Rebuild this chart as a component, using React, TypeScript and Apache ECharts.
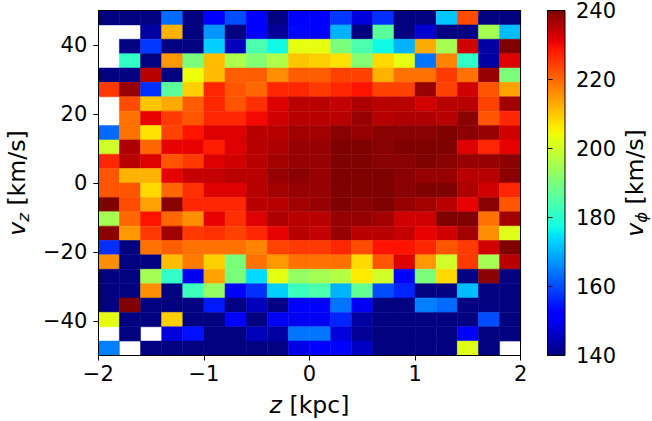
import React, { useEffect, useRef } from "react";
import * as echarts from "echarts";

// bin edges
const zEdges = [-2.0, -1.8, -1.6, -1.4, -1.2, -1.0, -0.8, -0.6, -0.4, -0.2, 0.0, 0.2, 0.4, 0.6, 0.8, 1.0, 1.2, 1.4, 1.6, 1.8, 2.0];
const vzEdges = [50, 45.8333, 41.6667, 37.5, 33.3333, 29.1667, 25, 20.8333, 16.6667, 12.5, 8.3333, 4.1667, 0, -4.1667, -8.3333, -12.5, -16.6667, -20.8333, -25, -29.1667, -33.3333, -37.5, -41.6667, -45.8333, -50];

// tick labels
const zTicks = [-2, -1, 0, 1, 2];
const vzTicks = [-40, -20, 0, 20, 40];
const cbTicks = [140, 160, 180, 200, 220, 240];

// v_phi per cell, rows from top (vz = 50) to bottom (vz = -50), columns z = -2 .. 2
const vphi: (number | null)[][] = [
  [135, 135, 135, 163, 135, 152, 160, 152, 140, 152, 152, 158, 148, 157, 137, 137, 172, 223, 137, 137],
  [null, null, 143, 212, 135, 167, 138, 152, 142, 153, 152, 170, 137, 186, 137, 147, 137, 137, 195, 171],
  [null, 137, 158, 137, 137, 173, 145, 184, 177, 203, 203, 190, 184, 177, 170, 213, 195, 233, 143, 240],
  [null, 181, 137, 215, 190, 211, 196, 191, 196, 210, 209, 207, 191, 208, 203, 164, 217, 181, 143, 232],
  [135, 135, 235, 135, 204, 211, 221, 221, 216, 221, 221, 224, 224, 212, 219, 219, 225, 219, 238, 190],
  [225, 238, 157, 186, 209, 227, 222, 220, 227, 227, 225, 227, 229, 224, 224, 238, 224, 233, 222, 214],
  [null, 223, 210, 213, 221, 227, 222, 226, 232, 235, 235, 234, 236, 235, 235, 233, 235, 235, 224, 237],
  [null, 219, 231, 225, 222, 227, 227, 230, 233, 235, 235, 235, 238, 235, 236, 236, 235, 239, 222, 227],
  [163, 219, 207, 224, 229, 232, 232, 235, 235, 237, 237, 239, 238, 239, 239, 239, 240, 239, 238, 233],
  [200, 236, 220, 231, 231, 228, 232, 235, 236, 238, 238, 240, 240, 239, 240, 240, 240, 232, 227, 231],
  [227, 235, 232, 222, 225, 232, 233, 235, 237, 238, 238, 240, 240, 239, 239, 240, 239, 238, 238, 239],
  [222, 212, 212, 231, 234, 234, 235, 235, 238, 239, 238, 240, 240, 240, 239, 238, 238, 235, 235, 239],
  [222, 222, 208, 220, 226, 232, 232, 235, 237, 238, 238, 240, 240, 240, 239, 240, 240, 236, 233, 227],
  [240, 223, 214, 239, 227, 227, 227, 235, 235, 237, 238, 240, 239, 240, 238, 237, 235, 231, 239, 222],
  [195, 220, 229, 220, 216, 231, 226, 232, 236, 235, 235, 238, 238, 237, 233, 233, 240, 240, 219, 237],
  [239, 215, 225, 237, 225, 226, 224, 227, 231, 235, 234, 238, 235, 235, 234, 231, 233, 237, 216, 202],
  [157, 135, 219, 221, 219, 219, 219, 217, 224, 225, 225, 227, 223, 229, 229, 227, 222, 225, 233, 240],
  [216, 135, 135, 211, 218, 209, 190, 219, 215, 219, 219, 219, 208, 222, 232, 215, 200, 225, 195, 235],
  [135, 135, 195, 181, 150, 214, 190, 174, 203, 193, 195, 197, 206, 200, 152, 190, 208, 137, 239, 137],
  [135, 135, 216, 135, 182, 193, 151, 157, 173, 182, 184, 170, 187, 160, 156, 137, 137, 171, 137, 137],
  [135, 240, 135, 135, 135, 155, 137, 145, 138, 151, 152, 164, 150, 137, 137, 165, 163, 137, 137, 137],
  [203, 135, 135, 209, 135, 135, 151, 137, 150, 150, 150, 156, 143, 137, 137, 137, 137, 137, 160, 137],
  [null, 135, null, 148, 154, 135, 135, 145, 143, 164, 164, 148, 142, 137, 137, 137, 137, 151, 137, 137],
  [165, null, 135, 135, 135, 135, 135, 135, 137, 149, 151, 151, 146, 137, 137, 137, 137, 202, 137, null],
];

const vMin = 140;
const vMax = 240;

// matplotlib "jet" colormap
function jet(x: number): string {
  const r = x < 0.35 ? 0 : x < 0.66 ? (x - 0.35) / 0.31 : x < 0.89 ? 1 : 1 - (0.5 * (x - 0.89)) / 0.11;
  const g = x < 0.125 ? 0 : x < 0.375 ? (x - 0.125) / 0.25 : x < 0.64 ? 1 : x < 0.91 ? 1 - (x - 0.64) / 0.27 : 0;
  const b = x < 0.11 ? 0.5 + (0.5 * x) / 0.11 : x < 0.34 ? 1 : x < 0.65 ? 1 - (x - 0.34) / 0.31 : 0;
  const c = (v: number) => Math.round(Math.max(0, Math.min(1, v)) * 255);
  return `rgb(${c(r)},${c(g)},${c(b)})`;
}
const jetColors: string[] = [];
for (let i = 0; i <= 200; i++) jetColors.push(jet(i / 200));

const FONT = "DejaVu Sans";
const fmtMinus = (v: number) => String(v).replace("-", "\u2212");

export default function App() {
  const ref = useRef<HTMLDivElement>(null);
  useEffect(() => {
    document.body.style.margin = "0";
    if (!ref.current) return;
    const chart = echarts.init(ref.current, undefined, { renderer: "svg" });

    const cells: number[][] = [];
    vphi.forEach((row, r) => {
      row.forEach((v, c) => {
        if (v === null) return;
        cells.push([zEdges[c], zEdges[c + 1], vzEdges[r + 1], vzEdges[r], v]);
      });
    });

    const tickStyle = { show: true, inside: false, length: 5, lineStyle: { color: "#000", width: 1 } };
    const labelStyle = { color: "#000", fontFamily: FONT, fontSize: 21 };
    const nameRich = {
      i: { fontFamily: FONT, fontSize: 23.6, fontStyle: "italic", color: "#000" },
      s: { fontFamily: FONT, fontSize: 16.5, fontStyle: "italic", color: "#000", verticalAlign: "bottom", padding: [0, 0, -3, 0] },
      t: { fontFamily: FONT, fontSize: 23.6, color: "#000" },
    };

    const option: any = {
      animation: false,
      backgroundColor: "#fff",
      grid: [
        { left: 98.3, top: 10.5, width: 422.4, height: 345, outerBoundsMode: "none", containLabel: false },
        { left: 547.5, top: 10.5, width: 17.5, height: 345, outerBoundsMode: "none", containLabel: false },
      ],
      xAxis: [
        {
          type: "value", gridIndex: 0, min: -2, max: 2, interval: 1, position: "bottom", z: 5,
          axisLine: { show: true, onZero: false, lineStyle: { color: "#000", width: 1 } },
          axisTick: tickStyle,
          axisLabel: { ...labelStyle, margin: 8, formatter: (v: number) => fmtMinus(v) },
          splitLine: { show: false },
          name: "{i|z}{t| [kpc]}", nameLocation: "middle", nameGap: 37,
          nameTextStyle: { rich: nameRich },
        },
        {
          type: "value", gridIndex: 1, min: 0, max: 1, show: false,
        },
        {
          type: "value", gridIndex: 0, min: -2, max: 2, position: "top", z: 5,
          axisLine: { show: true, onZero: false, lineStyle: { color: "#000", width: 1 } },
          axisTick: { show: false }, axisLabel: { show: false }, splitLine: { show: false },
        },
      ],
      yAxis: [
        {
          type: "value", gridIndex: 0, min: -50, max: 50, interval: 10, position: "left", z: 5,
          axisLine: { show: true, onZero: false, lineStyle: { color: "#000", width: 1 } },
          axisTick: { ...tickStyle, customValues: vzTicks },
          axisLabel: { ...labelStyle, margin: 11, customValues: vzTicks, formatter: (v: number) => fmtMinus(v) },
          splitLine: { show: false },
          name: "{i|v}{s|z}{t| [km/s]}", nameLocation: "middle", nameGap: 66,
          nameTextStyle: { rich: nameRich },
        },
        {
          type: "value", gridIndex: 1, min: vMin, max: vMax, interval: 20, position: "right", z: 5,
          axisLine: { show: false },
          axisTick: tickStyle,
          axisLabel: { ...labelStyle, margin: 11 },
          splitLine: { show: false },
          name: "{i|v}{s|\u03d5}{t| [km/s]}", nameLocation: "middle", nameGap: 58,
          nameTextStyle: { rich: nameRich },
        },
        {
          type: "value", gridIndex: 0, min: -50, max: 50, position: "right", z: 5,
          axisLine: { show: true, onZero: false, lineStyle: { color: "#000", width: 1 } },
          axisTick: { show: false }, axisLabel: { show: false }, splitLine: { show: false },
        },
      ],
      visualMap: {
        show: false, type: "continuous", min: vMin, max: vMax, dimension: 4, seriesIndex: 0,
        inRange: { color: jetColors },
      },
      series: [
        {
          type: "custom", xAxisIndex: 0, yAxisIndex: 0, clip: true,
          encode: { x: [0, 1], y: [2, 3] },
          data: cells,
          renderItem: (_p: any, api: any) => {
            const p0 = api.coord([api.value(0), api.value(3)]);
            const p1 = api.coord([api.value(1), api.value(2)]);
            const col = api.visual("color");
            return {
              type: "rect",
              shape: { x: p0[0], y: p0[1], width: p1[0] - p0[0], height: p1[1] - p0[1] },
              style: { fill: col, stroke: col, lineWidth: 0.5 },
            };
          },
        },
        {
          type: "custom", xAxisIndex: 1, yAxisIndex: 1, clip: false,
          encode: { x: [0, 1], y: [2, 3] },
          data: [[0, 1, vMin, vMax]],
          z: 3,
          renderItem: (_p: any, api: any) => {
            const p0 = api.coord([api.value(0), api.value(3)]);
            const p1 = api.coord([api.value(1), api.value(2)]);
            const stops = jetColors.map((c, i) => ({ offset: i / (jetColors.length - 1), color: c }));
            return {
              type: "rect",
              shape: { x: p0[0], y: p0[1], width: p1[0] - p0[0], height: p1[1] - p0[1] },
              style: {
                fill: new echarts.graphic.LinearGradient(0, 1, 0, 0, stops),
                stroke: "#000", lineWidth: 1,
              },
            };
          },
        },
      ],
    };
    chart.setOption(option);
    return () => chart.dispose();
  }, []);
  return <div ref={ref} style={{ width: 652, height: 421 }} />;
}
